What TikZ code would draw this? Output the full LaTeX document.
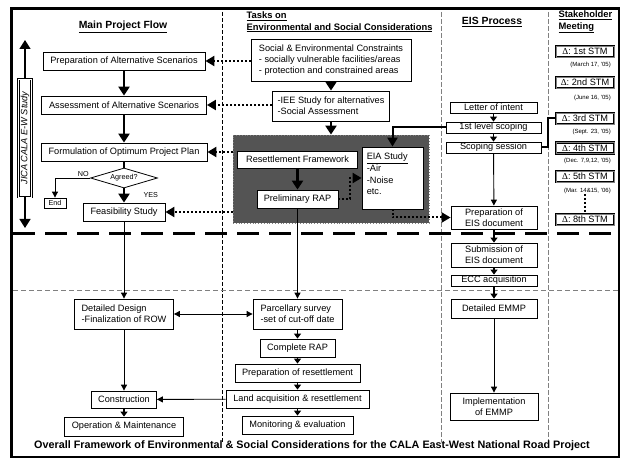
\documentclass[tikz,border=0pt]{standalone}
\usepackage{fontspec}
\setmainfont{Liberation Sans}
\newfontfamily\serifschrift{Liberation Serif}
\usetikzlibrary{arrows.meta,shapes.geometric}

\begin{document}
\begin{tikzpicture}[
    x=1pt, y=-1pt,
    kasten/.style={
      draw,
      fill=white,
      line width=.8pt,
      inner sep=0pt,
      align=left,
      font=\fontsize{9.2}{10.8}\selectfont},
    stmkasten/.style={
      draw,
      fill=white,
      line width=.7pt,
      double=gray,
      double distance=.8pt,
      minimum width=58pt,
      minimum height=11pt,
      inner sep=0pt,
      font=\fontsize{9.2}{10.8}\selectfont},
    raute/.style={
      diamond,
      draw,
      fill=white,
      line width=.8pt,
      inner sep=0pt,
      aspect=3.3,
      minimum width=67pt,
      minimum height=20pt},
    klein/.style={font=\fontsize{7.2}{8.5}\selectfont},
    datum/.style={anchor=east, inner sep=0pt, font=\fontsize{6}{7}\selectfont},
    kopf/.style={font=\bfseries\fontsize{9.4}{11.4}\selectfont, align=left},
    dicklinie/.style={line width=2.6pt},
    dickpfeil/.style={line width=2.6pt, -{Triangle[length=9pt,width=11pt]}},
    kleinpfeil/.style={line width=1.2pt, -{Triangle[length=5pt,width=7pt]}},
    duennpfeil/.style={line width=.9pt, -{Triangle[length=6pt,width=6pt]}},
    doppelpfeil/.style={line width=.9pt, {Triangle[length=6pt,width=6pt]}-{Triangle[length=6pt,width=6pt]}},
    punktlinie/.style={line width=2pt, dash pattern=on 2pt off 2pt},
    punktpfeil/.style={punktlinie, -{Triangle[length=9pt,width=10pt]}}
    ]

  \useasboundingbox (0,0) rectangle (621,462);

  % Rahmen und Spalten
  \draw[line width=2.5pt] (11.5,8.5) rectangle (619,457);
  \draw[line width=.6pt, dash pattern=on 4pt off 2pt] (222,12) -- (222,442);
  \draw[gray, line width=1pt, dash pattern=on 5pt off 2pt] (441,12) -- (441,442);
  \draw[gray, line width=1pt, dash pattern=on 5pt off 2pt] (548,12) -- (548,442);
  \draw[line width=3pt, dash pattern=on 22pt off 10pt] (13,234) -- (618,234);
  \draw[gray, line width=1pt, dash pattern=on 5pt off 3pt] (13,291) -- (618,291);

  \node at (123,27) (kopf0) [kopf, font=\bfseries\fontsize{10.4}{12}\selectfont] {\underline{Main Project Flow}};
  \node at (243,22) (kopf1) [kopf, anchor=west]
    {\underline{Tasks on}\\\underline{Environmental and Social Considerations}};
  \node at (492,22) (kopf2) [kopf, font=\bfseries\fontsize{10.4}{12}\selectfont] {\underline{EIS Process}};
  \node at (555,22) (kopf3) [kopf, anchor=west] {\underline{Stakeholder}\\\underline{Meeting}};

  % Hauptablauf
  \node at (124,61) (haupt0) [kasten, minimum width=162pt, minimum height=18pt] {Preparation of Alternative Scenarios};
  \node at (124,105) (haupt1) [kasten, minimum width=165pt, minimum height=18pt] {Assessment of Alternative Scenarios};
  \node at (124,152) (haupt2) [kasten, minimum width=166pt, minimum height=18pt] {Formulation of Optimum Project Plan};
  \node at (124,178) (entscheidung) [raute, klein] {Agreed?};
  \node at (55,203) (ende) [kasten, klein, minimum width=22pt, minimum height=10pt] {End};
  \node at (124,212) (haupt5) [kasten, minimum width=82pt, minimum height=18pt] {Feasibility Study};
  \node at (124,314) (haupt6) [kasten, minimum width=99pt, minimum height=30pt] {Detailed Design\\-Finalization of ROW};
  \node at (124,399.5) (haupt7) [kasten, minimum width=65pt, minimum height=17pt] {Construction};
  \node at (124,426.5) (haupt8) [kasten, minimum width=119pt, minimum height=19pt] {Operation \& Maintenance};

  \node at (25,138) (jica) [stmkasten, rotate=90, minimum width=118pt, minimum height=13pt,
    font=\itshape\fontsize{9.2}{10.8}\selectfont, double=white] {JICA CALA E-W Study};
  \coordinate (jicaoben) at (25,40);
  \coordinate (jicaunten) at (25,228);

  % Aufgaben
  \node at (331,60) (aufgabe0) [kasten, minimum width=160pt, minimum height=42pt]
    {Social \& Environmental Constraints\\- socially vulnerable facilities/areas\\- protection and constrained areas};
  \node at (331,106) (aufgabe1) [kasten, minimum width=117pt, minimum height=30pt]
    {-IEE Study for alternatives\\-Social Assessment};
  \node at (331,179) (gruppe) [draw=gray, fill=black!67, dotted, line width=.8pt,
    minimum width=196pt, minimum height=88pt] {};
  \node at (297.5,159.5) (aufgabe2) [kasten, minimum width=120pt, minimum height=17pt] {Resettlement Framework};
  \node at (297.5,199) (aufgabe3) [kasten, minimum width=81pt, minimum height=18pt] {Preliminary RAP};
  \node at (392.5,178) (aufgabe4) [kasten, minimum width=61pt, minimum height=62pt] {};
  \node at (aufgabe4.north west) (eiatext) [anchor=north west, align=left, inner xsep=5pt, inner ysep=6.5pt,
    font=\fontsize{9.2}{11.6}\selectfont] {\underline{EIA Study}\\-Air\\-Noise\\etc.};
  \node at (297.5,314) (aufgabe5) [kasten, minimum width=89pt, minimum height=30pt] {Parcellary survey\\-set of cut-off date};
  \node at (297.5,348) (aufgabe6) [kasten, minimum width=75pt, minimum height=18pt] {Complete RAP};
  \node at (297.5,373) (aufgabe7) [kasten, minimum width=125pt, minimum height=18pt] {Preparation of resettlement};
  \node at (297.5,399) (aufgabe8) [kasten, minimum width=143pt, minimum height=18pt] {Land acquisition \& resettlement};
  \node at (297.5,425) (aufgabe9) [kasten, minimum width=111pt, minimum height=18pt] {Monitoring \& evaluation};

  % EIS
  \node at (493.5,107.5) (eis0) [kasten, minimum width=87pt, minimum height=11pt] {Letter of intent};
  \node at (493.5,127.5) (eis1) [kasten, minimum width=95pt, minimum height=11pt] {1st level scoping};
  \node at (493.5,147.5) (eis2) [kasten, minimum width=95pt, minimum height=11pt] {Scoping session};
  \node at (494,217.5) (eis3) [kasten, align=center, minimum width=86pt, minimum height=23pt] {Preparation of\\EIS document};
  \node at (494,255) (eis4) [kasten, align=center, minimum width=86pt, minimum height=24pt] {Submission of\\EIS document};
  \node at (494,280.5) (eis5) [kasten, minimum width=86pt, minimum height=11pt] {ECC acquisition};
  \node at (494,308.5) (eis6) [kasten, minimum width=86pt, minimum height=19pt] {Detailed EMMP};
  \node at (494,406.5) (eis7) [kasten, align=center, minimum width=88pt, minimum height=27pt] {Implementation\\of EMMP};

  % Stakeholder
  \node at (585,51.5) (stm1) [stmkasten] {{\serifschrift Δ}: 1st STM};
  \node at (611,65) (stm1datum) [datum] {(March 17, '05)};
  \node at (585,82.5) (stm2) [stmkasten] {{\serifschrift Δ}: 2nd STM};
  \node at (611,98) (stm2datum) [datum] {(June 16, '05)};
  \node at (585,118.5) (stm3) [stmkasten] {{\serifschrift Δ}: 3rd STM};
  \node at (611,132) (stm3datum) [datum] {(Sept. 23, '05)};
  \node at (585,148) (stm4) [stmkasten] {{\serifschrift Δ}: 4th STM};
  \node at (611,161) (stm4datum) [datum] {(Dec. 7,9,12, '05)};
  \node at (585,176.5) (stm5) [stmkasten] {{\serifschrift Δ}: 5th STM};
  \node at (611,191) (stm5datum) [datum] {(Mar. 14\&15, '06)};
  \node at (585,219.5) (stm8) [stmkasten] {{\serifschrift Δ}: 8th STM};

  \node at (312,446) (titel) [kopf, font=\bfseries\fontsize{10.8}{12}\selectfont]
    {Overall Framework of Environmental \& Social Considerations for the CALA East-West National Road Project};

  % Verbindungen
  \path
        (haupt0) edge[dickpfeil] (haupt1)
        (haupt1) edge[dickpfeil] (haupt2)
        (haupt2) edge[dicklinie] (entscheidung)
        (entscheidung) edge[dickpfeil] node[right=15pt, klein] {YES} (haupt5)
        (haupt5) edge[duennpfeil] (haupt6)
        (haupt6) edge[duennpfeil] (haupt7)
        (haupt7) edge[kleinpfeil] (haupt8)
        (jica) edge[dickpfeil, line width=1.4pt] (jicaoben)
        (jica) edge[dickpfeil, line width=1.4pt] (jicaunten)

        (aufgabe0) edge[dickpfeil] (aufgabe1)
        (aufgabe1) edge[dickpfeil] (gruppe)
        (aufgabe2) edge[dickpfeil] (aufgabe3)
        (aufgabe3) edge[duennpfeil] (aufgabe5)
        (aufgabe5) edge[kleinpfeil] (aufgabe6)
        (aufgabe6) edge[kleinpfeil] (aufgabe7)
        (aufgabe7) edge[kleinpfeil] (aufgabe8)
        (aufgabe8) edge[kleinpfeil] (aufgabe9)
        (haupt6) edge[doppelpfeil] (aufgabe5)
        (aufgabe8) edge[duennpfeil] (haupt7)

        (eis0) edge[kleinpfeil, line width=.9pt] (eis1)
        (eis1) edge[kleinpfeil, line width=.9pt] (eis2)
        (eis2) edge[duennpfeil] (eis3)
        (eis3) edge[kleinpfeil] (eis4)
        (eis4) edge[kleinpfeil] (eis5)
        (eis5) edge[kleinpfeil] (eis6)
        (eis6) edge[duennpfeil] (eis7)
   ;

  \draw[duennpfeil] (entscheidung.west) -| node[pos=0, above left, inner sep=1pt, klein] {NO} (ende.north);

  \draw[punktpfeil] (aufgabe0.west |- haupt0) -- (haupt0.east);
  \draw[punktpfeil] (aufgabe1.west |- haupt1) -- (haupt1.east);
  \draw[punktpfeil] (gruppe.west |- haupt2) -- (haupt2.east);
  \draw[punktpfeil] (gruppe.west |- haupt5) -- (haupt5.east);
  \draw[punktpfeil] (aufgabe3.east) -- ++(12,0) |- (aufgabe4.west);
  \draw[punktpfeil] (aufgabe4.south) |- (eis3.west);
  \draw[punktlinie] (stm8 |- stm5datum.south) -- (stm8.north);

  \draw[line width=2pt, -{Triangle[length=9pt,width=10pt]}] (eis1.west) -| (aufgabe4.north);
  \draw[line width=2pt] (eis2.east) -- ++(7,0) |- (stm3.west);

\end{tikzpicture}
\end{document}
